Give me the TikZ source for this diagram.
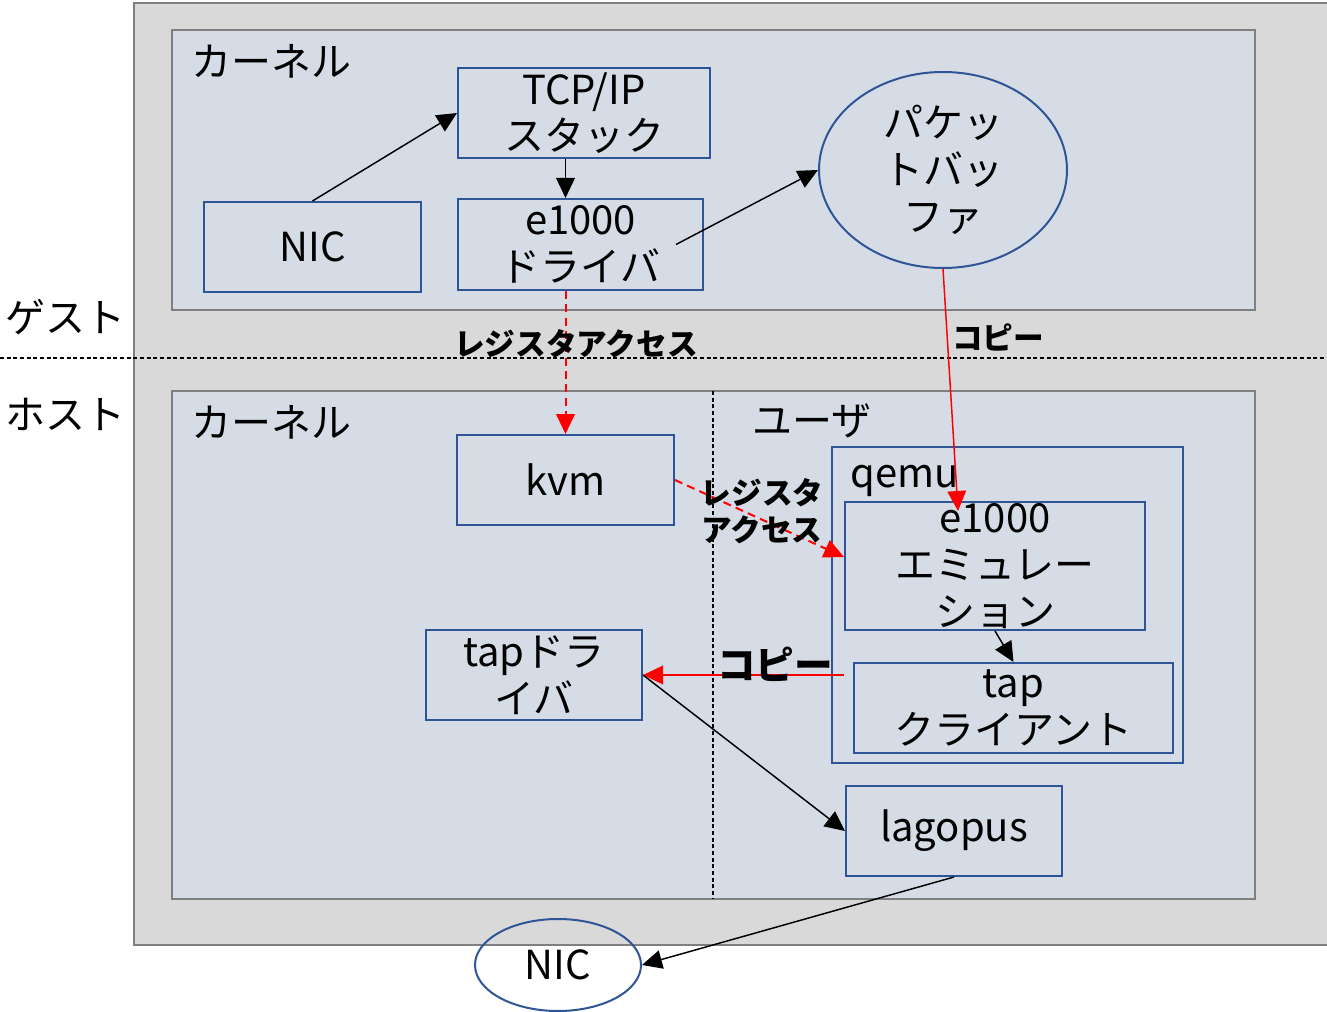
\documentclass[tikz,border=0pt]{standalone}
\usepackage{fontspec}
\setmainfont{Noto Sans CJK JP}
\usetikzlibrary{arrows.meta,shapes.geometric}
\definecolor{outerbg}{HTML}{D9D9D9}
\definecolor{innerbg}{HTML}{D6DCE5}
\definecolor{framegray}{HTML}{7F7F7F}
\definecolor{boxblue}{HTML}{2F5597}
\begin{document}
\begin{tikzpicture}[x=0.75pt,y=-0.75pt,
  region/.style={draw=framegray,line width=1.5pt,fill=innerbg},
  box/.style={draw=boxblue,line width=1.5pt,fill=innerbg,rectangle,inner sep=0pt},
  ebox/.style={draw=boxblue,line width=1.5pt,fill=innerbg,ellipse,inner sep=0pt},
  txt/.style={font=\fontsize{30}{35}\selectfont,align=center,inner sep=0pt},
  lbl/.style={font=\fontsize{23}{28}\selectfont\bfseries,align=center,inner sep=0pt},
  arr/.style={-{Triangle[length=15pt,width=14pt]},line width=1.1pt},
  redarr/.style={arr,red},
  reddash/.style={arr,red,line width=1.5pt,dash pattern=on 6pt off 4pt}]
\useasboundingbox (0,0) rectangle (1327,1012);
\clip (0,0) rectangle (1327,1012);
% regions
\draw[draw=framegray,line width=1.5pt,fill=outerbg] (134,3) rectangle (1340,945);
\draw[region] (172,30) rectangle (1255,310);
\draw[region] (172,391) rectangle (1255,899);
\draw[line width=0.8pt,dash pattern=on 3pt off 2pt] (0,358) -- (1327,358);
\draw[line width=0.8pt,dash pattern=on 3pt off 2pt] (713,391) -- (713,899);
\node[txt] at (65,317) {ゲスト};
\node[txt] at (65,414) {ホスト};
\node[txt] at (271,61) {カーネル};
\node[txt] at (271,422) {カーネル};
\node[txt] at (812,421) {ユーザ};
% guest boxes
\node[box,minimum width=189pt,minimum height=67.5pt] (tcp) at (584,113) {};
\node[txt] at (tcp) {TCP/IP\\スタック};
\node[box,minimum width=162.75pt,minimum height=67.5pt] (nic) at (312.5,247) {};
\node[txt] at (nic) {NIC};
\node[box,minimum width=183.75pt,minimum height=68.25pt] (drv) at (580.5,244.5) {};
\node[txt] at (drv) {e1000\\ドライバ};
\node[ebox,minimum width=186pt,minimum height=147pt] (buf) at (943,170) {};
\node[txt] at (buf) {パケッ\\トバッ\\ファ};
% host boxes
\node[box,minimum width=162.75pt,minimum height=67.5pt] (kvm) at (565.5,480) {};
\node[txt] at (kvm) {kvm};
\node[box,minimum width=263.25pt,minimum height=237pt] (qemu) at (1007.5,605) {};
\node[txt,anchor=west] at (850,481) {qemu};
\node[box,minimum width=225pt,minimum height=96pt] (emu) at (995,566) {};
\node[txt] at (emu) {e1000\\エミュレー\\ション};
\node[box,minimum width=239.25pt,minimum height=67.5pt] (tapc) at (1013.5,708) {};
\node[txt] at (tapc) {tap\\クライアント};
\node[box,minimum width=162pt,minimum height=67.5pt] (tapd) at (534,675) {};
\node[txt] at (tapd) {tapドラ\\イバ};
\node[box,minimum width=162pt,minimum height=67.5pt] (lago) at (954,831) {};
\node[txt] at (lago) {lagopus};
\node[ebox,fill=none,minimum width=124.5pt,minimum height=69pt] (nicb) at (558,965) {};
\node[txt] at (nicb) {NIC};
% connectors
\draw[arr] (nic.north) -- (tcp.west);
\draw[arr] (tcp.south -| kvm.north) -- (drv.north -| kvm.north);
\draw[arr] ([xshift=-21pt]drv.east) -- (buf.west);
\draw[redarr] (buf.south) -- ([xshift=-27.75pt,yshift=-7.5pt]emu.north);
\draw[reddash] (drv.south -| kvm.north) -- (kvm.north);
\draw[reddash] (kvm.east) -- ([yshift=6.75pt]emu.west);
\draw[arr] (emu.south) -- (tapc.north);
\draw[redarr] (tapd.east -| emu.west) -- (tapd.east);
\draw[arr] (tapd.east) -- (lago.west);
\draw[arr] (lago.south) -- (nicb.east);
% labels
\node[lbl] at (576,344) {レジスタアクセス};
\node[lbl] at (998,337) {コピー};
\node[lbl] at (762,511) {レジスタ\\アクセス};
\node[lbl,font=\fontsize{29}{34}\selectfont\bfseries] at (775,664) {コピー};
\end{tikzpicture}
\end{document}
